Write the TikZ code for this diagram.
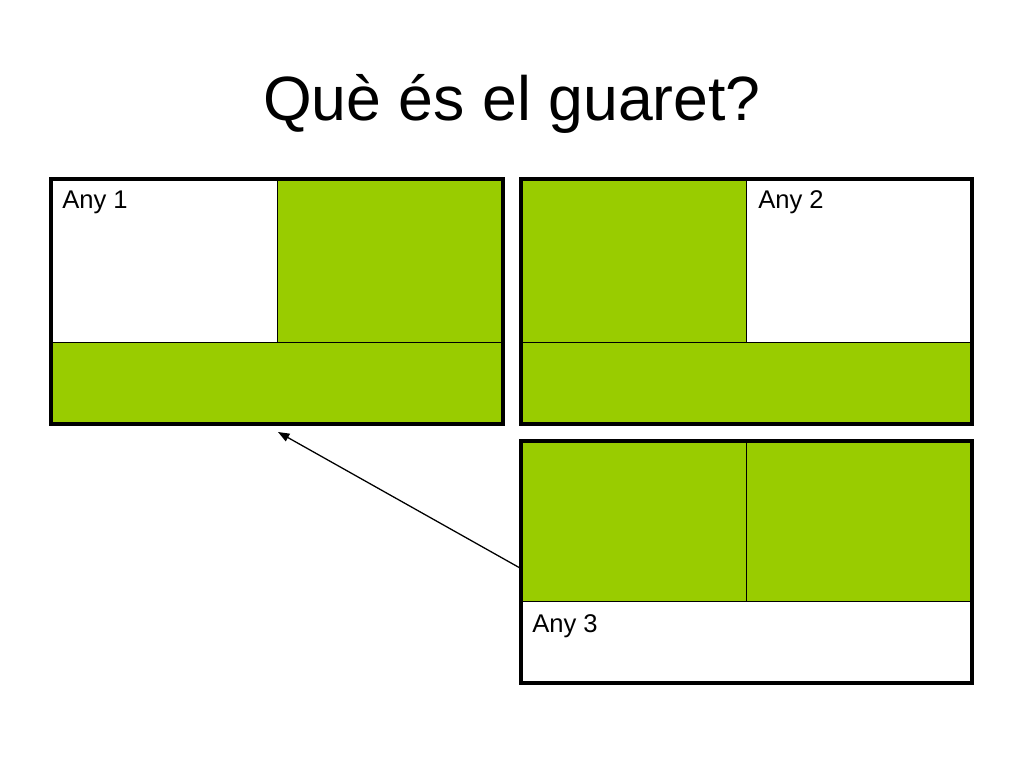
\documentclass[tikz,border=0pt]{standalone}
\usepackage{fontspec}
\setmainfont{Liberation Sans}
\usetikzlibrary{arrows.meta}
\definecolor{fallow}{HTML}{99CC00}
\begin{document}
\begin{tikzpicture}[x=0.703125pt,y=-0.703125pt,
  greencell/.style={fill=fallow,draw=black,line width=0.7pt},
  whitecell/.style={fill=white,draw=black,line width=0.7pt},
  outerbox/.style={draw=black,line width=2.2pt},
  lab/.style={anchor=base west,inner sep=0pt,font=\fontsize{18}{21}\selectfont},
  arr/.style={-{Triangle[length=8pt,width=6pt]},line width=0.9pt}]
\useasboundingbox[fill=white] (0,0) rectangle (1024,768);
\node[anchor=base,inner sep=0pt,font=\fontsize{44}{52}\selectfont] (title) at (512,121) {Què és el guaret?};
% Box 1
\draw[whitecell] (51,179) rectangle (277,342);
\draw[greencell] (277,179) rectangle (503,342);
\draw[greencell] (51,342) rectangle (503,424);
\draw[outerbox] (51,179) rectangle (503,424);
\node[lab] (any1) at (62,209) {Any 1};
% Box 2
\draw[greencell] (521,179) rectangle (746,342);
\draw[whitecell] (746,179) rectangle (972,342);
\draw[greencell] (521,342) rectangle (972,424);
\draw[outerbox] (521,179) rectangle (972,424);
\node[lab] (any2) at (758,209) {Any 2};
% Box 3
\draw[greencell] (521,441) rectangle (746,601);
\draw[greencell] (746,441) rectangle (972,601);
\draw[whitecell] (521,601) rectangle (972,683);
\draw[outerbox] (521,441) rectangle (972,683);
\node[lab] (any3) at (532,632) {Any 3};
% Arrow
\coordinate (from) at (520,568);
\coordinate (tip) at (278,432);
\draw[arr] (from) -- (tip);
\end{tikzpicture}
\end{document}
